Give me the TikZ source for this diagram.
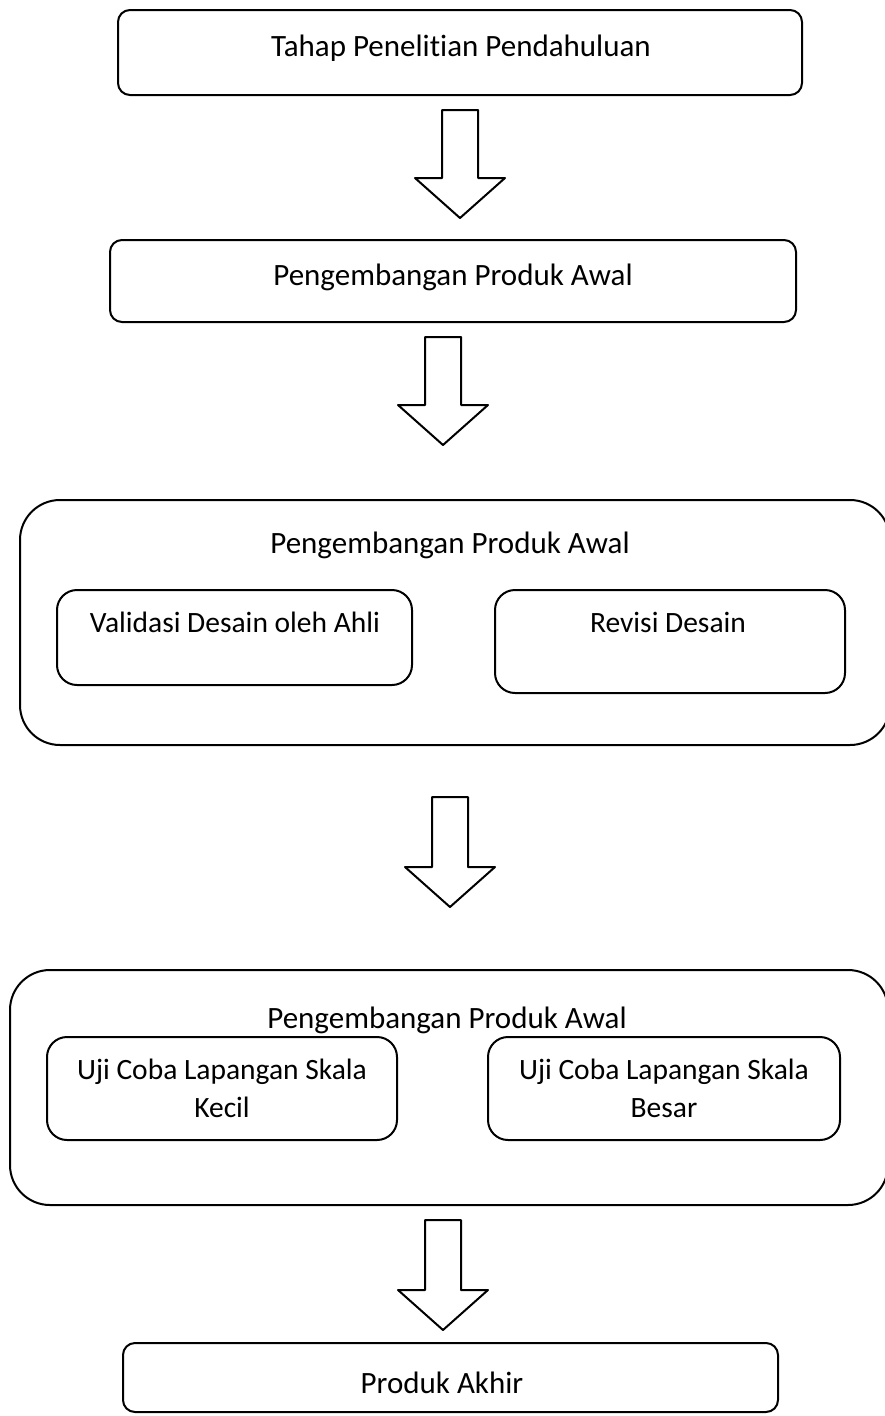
\documentclass[tikz,border=0pt]{standalone}
\usepackage{fontspec}
\setmainfont{Carlito}[Ligatures=NoCommon]
\newcommand{\panah}[3]{% x, y atas, y ujung
	\draw[garis] (#1-18,#2)--(#1+18,#2)--(#1+18,#3-40)--(#1+45,#3-40)
	--(#1,#3)--(#1-45,#3-40)--(#1-18,#3-40)--cycle;}
\begin{document}
\begin{tikzpicture}[x=1pt,y=-1pt,line join=round,
	garis/.style={line width=2pt},
	kotak/.style={draw,garis,rounded corners=#1},
	kotak/.default=12pt,
	teks/.style={font=\fontsize{31}{38}\selectfont,align=center,inner sep=0pt},
	isi/.style={teks,font=\fontsize{29.5}{38}\selectfont}]
	\useasboundingbox (0,0) rectangle (885,1416);
	%==Kotak utama
	\node[kotak,minimum width=684pt,minimum height=85pt] (tahap) at (460,52.5) {};
	\node[teks] (tahapT) at (461,48) {Tahap Penelitian Pendahuluan};
	\node[kotak,minimum width=686pt,minimum height=82pt] (awal) at (453,281) {};
	\node[teks] (awalT) at (453,277) {Pengembangan Produk Awal};
	%==Kotak validasi
	\node[kotak=40pt,minimum width=870pt,minimum height=245pt] (desain) at (455,622.5) {};
	\node[teks] (desainT) at (450,545) {Pengembangan Produk Awal};
	\node[kotak=20pt,minimum width=355pt,minimum height=95pt] (validasi) at (234.5,637.5) {};
	\node[isi] (validasiT) at (235,622) {Validasi Desain oleh Ahli};
	\node[kotak=20pt,minimum width=350pt,minimum height=103pt] (revisi) at (670,641.5) {};
	\node[isi] (revisiT) at (668,622) {Revisi Desain};
	%==Kotak uji coba
	\node[kotak=40pt,minimum width=878pt,minimum height=235pt] (uji) at (449,1087.5) {};
	\node[teks] (ujiT) at (447,1020) {Pengembangan Produk Awal};
	\node[kotak=20pt,minimum width=350pt,minimum height=103pt] (kecil) at (222,1088.5) {};
	\node[isi] (kecilT) at (222,1088) {Uji Coba Lapangan Skala\\Kecil};
	\node[kotak=20pt,minimum width=352pt,minimum height=103pt] (besar) at (664,1088.5) {};
	\node[isi] (besarT) at (664,1088) {Uji Coba Lapangan Skala\\Besar};
	%==Produk akhir
	\node[kotak,minimum width=655pt,minimum height=69pt] (akhir) at (450.5,1377.5) {};
	\node[teks] (akhirT) at (442,1383) {Produk Akhir};
	%==Panah
	\panah{460}{110}{218}
	\panah{443}{337}{445}
	\panah{450}{797}{907}
	\panah{443}{1220}{1330}
\end{tikzpicture}
\end{document}
